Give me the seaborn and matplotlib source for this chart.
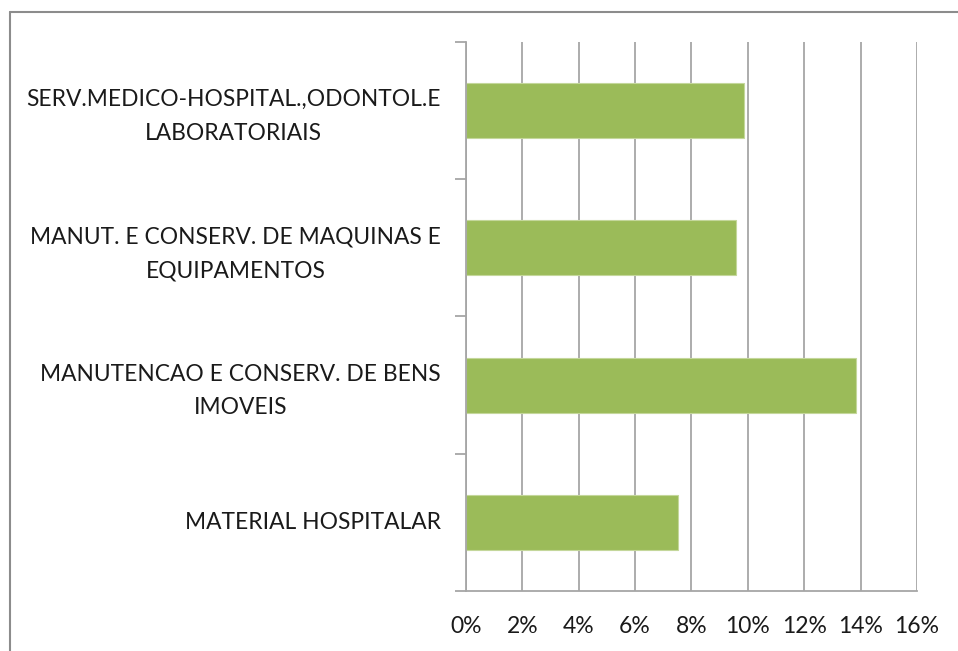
import matplotlib
matplotlib.use("Agg")
import matplotlib.pyplot as plt
import matplotlib.transforms as mtransforms
import seaborn as sns
import pandas as pd
from matplotlib.ticker import FixedLocator, PercentFormatter
from matplotlib.lines import Line2D

categories = [
    "SERV.MEDICO-HOSPITAL.,ODONTOL.E\nLABORATORIAIS",
    "MANUT. E CONSERV. DE MAQUINAS E\nEQUIPAMENTOS",
    "MANUTENCAO E CONSERV. DE BENS\nIMOVEIS",
    "MATERIAL HOSPITALAR",
]
values = [9.85, 9.57, 13.85, 7.53]
x_ticks = [0, 2, 4, 6, 8, 10, 12, 14, 16]

sns.set_theme(style="white")
plt.rcParams['font.family'] = ['Lato', 'DejaVu Sans']

df = pd.DataFrame({"cat": categories, "val": values})

fig = plt.figure(figsize=(9.58, 6.51), dpi=100)
ax = fig.add_axes([0.4864, 0.0922, 0.4708, 0.8433])

sns.barplot(data=df, x="val", y="cat", orient="h", width=0.4,
            color="#9BBB59", saturation=1, edgecolor="#C4D79B", linewidth=0.8, ax=ax)

ax.set_xlim(0, 16)
ax.set_ylim(len(categories) - 0.5, -0.5)
ax.set_xticks(x_ticks)
ax.xaxis.set_major_formatter(PercentFormatter(decimals=0))
ax.set_xlabel("")
ax.set_ylabel("")

grid_c = "#A6A6A6"
ax.grid(axis="x", color=grid_c, linewidth=1.3)
ax.set_axisbelow(True)
for s in ["top", "right"]:
    ax.spines[s].set_visible(False)
for s in ["left", "bottom"]:
    ax.spines[s].set_color(grid_c)
    ax.spines[s].set_linewidth(1.3)

txt_c = "#1a1a1a"
ax.tick_params(axis="x", which="major", direction="out", length=8, width=1.3,
               color=grid_c, labelsize=16.5, pad=10, labelcolor=txt_c)

# category labels: right-aligned block, lines centered (Excel style)
ax.set_yticks(range(len(categories)))
ax.set_yticklabels([])
ax.tick_params(axis="y", which="major", length=0)
for i, c in enumerate(categories):
    dy = -6 if "\n" in c else 0
    lab_tr = mtransforms.offset_copy(ax.get_yaxis_transform(), fig=fig, x=-25, y=dy, units="dots")
    ax.text(0, i, c, transform=lab_tr, ha="right", va="center", multialignment="center",
            linespacing=1.75, fontsize=16.4, color=txt_c)

ax.yaxis.set_minor_locator(FixedLocator([i - 0.5 for i in range(len(categories) + 1)]))
ax.tick_params(axis="y", which="minor", direction="out", length=8, width=1.3, color=grid_c, left=True)

# figure border
bc = "#8C8C8C"
fig.add_artist(Line2D([10/958, 10/958], [0, 1 - 12/651], transform=fig.transFigure, color=bc, linewidth=1.5))
fig.add_artist(Line2D([10/958, 1], [1 - 12/651, 1 - 12/651], transform=fig.transFigure, color=bc, linewidth=1.5))

fig.savefig("out.png", dpi=100)
